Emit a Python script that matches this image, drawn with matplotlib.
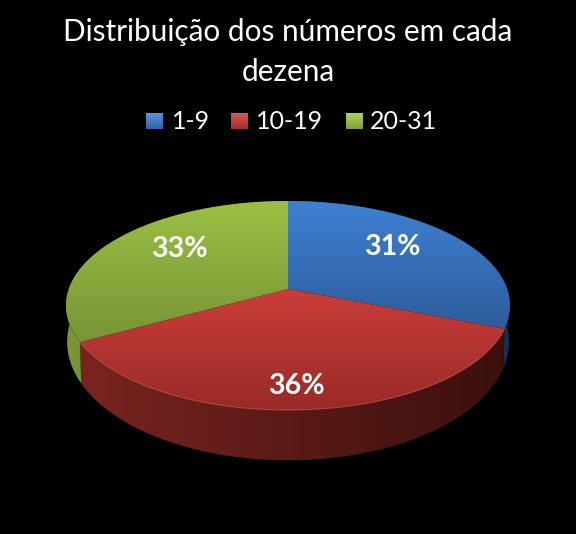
import numpy as np
import matplotlib
matplotlib.use('Agg')
import matplotlib.pyplot as plt
from matplotlib.patches import Polygon
from matplotlib.colors import LinearSegmentedColormap

title_lines = ['Distribuição dos números em cada', 'dezena']
categories = ['1-9', '10-19', '20-31']
values = [31, 36, 33]
top_colors = [('#3f80d2', '#2d5c9a'), ('#cb3d39', '#992a27'), ('#9cc044', '#789436')]
side_colors = [('#2b568e', '#173050'), ('#7a2420', '#3a100d'), ('#7a9636', '#586f2a')]
legend_colors = [('#5b95dc', '#2f62a5'), ('#d65a56', '#a52f2b'), ('#b0d45c', '#7f9f3a')]

plt.rcParams['font.family'] = ['Lato', 'DejaVu Sans']

fig = plt.figure(figsize=(5.76, 5.34), dpi=100, facecolor='black')
ax = fig.add_axes([0, 0, 1, 1])
ax.set_axis_off()

# tilted disc, the back is further away so the centre sits above the ellipse middle
cx, cy = 288, 289
rx, ry, k = 219.2, 101.9, 0.158
# the underside is a bit narrower and flatter than the top
cy_low, rx_low, ry_low = 323, 0.995 * rx, 115.6


def project(angle, centre_y, radius_x, radius_y):
    u, v = np.sin(angle), np.cos(angle)
    return cx + radius_x * u / (1 + k * v), centre_y - radius_y * v / (1 + k * v)


def gradient(colors, extent, clip, horizontal=False):
    cmap = LinearSegmentedColormap.from_list('g', colors)
    grad = np.linspace(0, 1, 256)
    grad = grad.reshape(1, -1) if horizontal else grad.reshape(-1, 1)
    im = ax.imshow(grad, cmap=cmap, extent=extent, aspect='auto', zorder=clip.get_zorder())
    ax.add_patch(clip)
    im.set_clip_path(clip)
    return im


edges = np.cumsum([0] + values) / sum(values) * 2 * np.pi
angles = [np.linspace(edges[i], edges[i + 1], 200) for i in range(len(values))]
arcs = [project(t, cy, rx, ry) for t in angles]
low_arcs = [project(t, cy_low, rx_low, ry_low) for t in angles]

# sides first, the top faces cover whatever is hidden
for i in [2, 0, 1]:
    x, y = arcs[i]
    xl, yl = low_arcs[i]
    pts = np.vstack([np.column_stack([x, y]), np.column_stack([xl, yl])[::-1]])
    clip = Polygon(pts, closed=True, fc='none', ec='none', zorder=2 + i * 0.1)
    gradient(side_colors[i], (pts[:, 0].min(), pts[:, 0].max(), 520, 200), clip, horizontal=True)

for i in range(len(values)):
    x, y = arcs[i]
    pts = np.vstack([[cx, cy], np.column_stack([x, y])])
    clip = Polygon(pts, closed=True, fc='none', ec='none', zorder=4)
    y_top, y_bottom = pts[:, 1].min(), pts[:, 1].max()
    gradient(top_colors[i], (x.min() - 10, x.max() + 10, y_bottom, y_top), clip)

# light rim along the front of the red slice
ax.plot(arcs[1][0], arcs[1][1], color='#d8615a', lw=0.7, alpha=0.7, zorder=5)

# percent labels
label_pos = [(392, 247), (296, 386), (179, 249)]
for val, (lx, ly) in zip(values, label_pos):
    ax.text(lx, ly, '%d%%' % val, color='white', fontsize=20.5, fontweight='bold',
            ha='center', va='center', zorder=6)

for line, by in zip(title_lines, [41, 81]):
    ax.text(288, by, line, color='white', fontsize=21.4, ha='center', va='baseline', zorder=6)

# legend
swatch_x = [146, 231, 346]
text_x = [172, 256, 370]
for name, cols, sx, tx in zip(categories, legend_colors, swatch_x, text_x):
    clip = Polygon([(sx, 113), (sx + 17, 113), (sx + 17, 129), (sx, 129)], closed=True,
                   fc='none', ec='none', zorder=6)
    gradient(cols, (sx, sx + 17, 129, 113), clip)
    ax.text(tx, 129, name, color='white', fontsize=18, ha='left', va='baseline', zorder=6)

ax.set_xlim(0, 576)
ax.set_ylim(534, 0)

plt.savefig('out.png', dpi=100, facecolor='black')
